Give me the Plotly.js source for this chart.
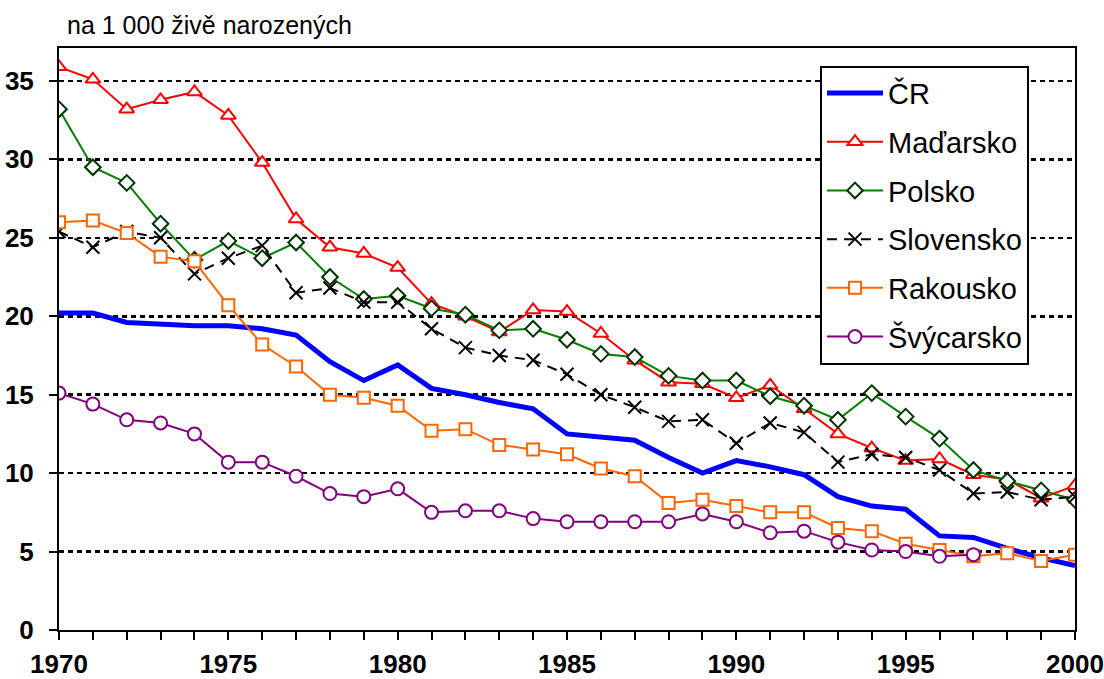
<!DOCTYPE html>
<html>
<head>
<meta charset="utf-8">
<script src="https://cdn.plot.ly/plotly-3.0.1.min.js"></script>
<style>
html,body{margin:0;padding:0;background:#fff;}
#chart{width:1104px;height:679px;}
</style>
</head>
<body>
<div id="chart"></div>
<script>
const years = [1970,1971,1972,1973,1974,1975,1976,1977,1978,1979,1980,1981,1982,1983,1984,1985,1986,1987,1988,1989,1990,1991,1992,1993,1994,1995,1996,1997,1998,1999,2000];
const cr =        [20.2,20.2,19.6,19.5,19.4,19.4,19.2,18.8,17.1,15.9,16.9,15.4,15.0,14.5,14.1,12.5,12.3,12.1,11.0,10.0,10.8,10.4,9.9,8.5,7.9,7.7,6.0,5.9,5.2,4.6,4.1];
const madarsko =  [35.9,35.1,33.2,33.8,34.3,32.8,29.8,26.2,24.4,24.0,23.1,20.8,20.0,19.0,20.4,20.3,18.9,17.2,15.8,15.7,14.8,15.6,14.1,12.5,11.6,10.8,10.9,9.9,9.6,8.4,9.2];
const polsko =    [33.2,29.5,28.5,25.9,23.6,24.8,23.7,24.7,22.5,21.1,21.3,20.5,20.1,19.1,19.2,18.5,17.6,17.4,16.2,15.9,15.9,14.9,14.3,13.4,15.1,13.6,12.2,10.2,9.5,8.9,8.3];
const slovensko = [25.4,24.4,25.4,25.0,22.7,23.7,24.5,21.5,21.8,20.9,20.9,19.2,18.0,17.5,17.2,16.3,15.0,14.2,13.3,13.4,11.9,13.2,12.6,10.7,11.2,11.0,10.2,8.7,8.8,8.3,8.5];
const rakousko =  [26.0,26.1,25.3,23.8,23.5,20.7,18.2,16.8,15.0,14.8,14.3,12.7,12.8,11.8,11.5,11.2,10.3,9.8,8.1,8.3,7.9,7.5,7.5,6.5,6.3,5.5,5.1,4.7,4.9,4.4,4.8];
const svycarsko = [15.1,14.4,13.4,13.2,12.5,10.7,10.7,9.8,8.7,8.5,9.0,7.5,7.6,7.6,7.1,6.9,6.9,6.9,6.9,7.4,6.9,6.2,6.3,5.6,5.1,5.0,4.7,4.8,null,null,null];
const seriesNames = ["ČR","Maďarsko","Polsko","Slovensko","Rakousko","Švýcarsko"];
const yTicks = [0,5,10,15,20,25,30,35];
const xLabelYears = [1970,1975,1980,1985,1990,1995,2000];
const titleText = "na 1 000 živě narozených";

const FONT = "Arial, 'Liberation Sans', sans-serif";

const traces = [
  {x: years, y: cr, name: seriesNames[0], mode: 'lines',
   line: {color: '#0000FF', width: 5}},
  {x: years, y: madarsko, name: seriesNames[1], mode: 'lines+markers',
   line: {color: '#FF0000', width: 2},
   marker: {symbol: 'triangle-up', size: 13, color: '#FFFFFF', line: {color: '#FF0000', width: 2}}},
  {x: years, y: polsko, name: seriesNames[2], mode: 'lines+markers',
   line: {color: '#008000', width: 2},
   marker: {symbol: 'diamond', size: 12, color: '#FFFFFF', line: {color: '#003300', width: 2}}},
  {x: years, y: slovensko, name: seriesNames[3], mode: 'lines+markers',
   line: {color: '#000000', width: 2, dash: '10px,7px'},
   marker: {symbol: 'x-thin-open', size: 13, color: '#000000', line: {color: '#000000', width: 2}}},
  {x: years, y: rakousko, name: seriesNames[4], mode: 'lines+markers',
   line: {color: '#FF6600', width: 2},
   marker: {symbol: 'square', size: 12, color: '#FFFFFF', line: {color: '#FF6600', width: 2}}},
  {x: years, y: svycarsko, name: seriesNames[5], mode: 'lines+markers',
   line: {color: '#800080', width: 2},
   marker: {symbol: 'circle', size: 13, color: '#FFFFFF', line: {color: '#800080', width: 2}}}
];
traces.forEach((t, i) => { t.legendgroup = 'g' + i; t.connectgaps = false; });

const layout = {
  width: 1104, height: 679,
  margin: {l: 59, r: 29, t: 48, b: 49, pad: 0},
  paper_bgcolor: '#FFFFFF', plot_bgcolor: '#FFFFFF',
  font: {family: FONT, color: '#000000'},
  showlegend: true,
  title: {text: titleText, font: {family: FONT, size: 25, color: '#000000'},
          xref: 'container', yref: 'container', x: 67/1104, xanchor: 'left', y: 1 - 25/679, yanchor: 'middle'},
  xaxis: {
    range: [1970, 2000], tickmode: 'array', tickvals: years,
    ticktext: years.map(y => xLabelYears.includes(y) ? String(y) : ''),
    ticks: 'outside', ticklen: 8, tickwidth: 2, tickcolor: '#000',
    showline: true, linecolor: '#000', linewidth: 2, mirror: true,
    showgrid: false, zeroline: false,
    tickfont: {family: FONT, size: 26, color: '#000', weight: 'bold'},
    ticklabelstandoff: 2
  },
  yaxis: {
    range: [0, 37.1], tickmode: 'array', tickvals: yTicks, ticktext: yTicks.map(String),
    ticks: 'outside', ticklen: 8, tickwidth: 2, tickcolor: '#000',
    showline: true, linecolor: '#000', linewidth: 2, mirror: true,
    showgrid: true, gridcolor: '#000000', gridwidth: 2.5, griddash: '5px,4px',
    zeroline: false,
    tickfont: {family: FONT, size: 26, color: '#000', weight: 'bold'},
    ticklabelstandoff: 10
  },
  legend: {
    x: (820-59)/1016, y: (630-65.7)/582, xanchor: 'left', yanchor: 'top',
    xref: 'paper', yref: 'paper',
    bgcolor: '#FFFFFF', bordercolor: '#000000', borderwidth: 2,
    font: {family: FONT, size: 29, color: '#000'},
    traceorder: 'grouped', tracegroupgap: 8, itemwidth: 56
  }
};

Plotly.newPlot('chart', traces, layout, {displayModeBar: false, staticPlot: true});
</script>
</body>
</html>
